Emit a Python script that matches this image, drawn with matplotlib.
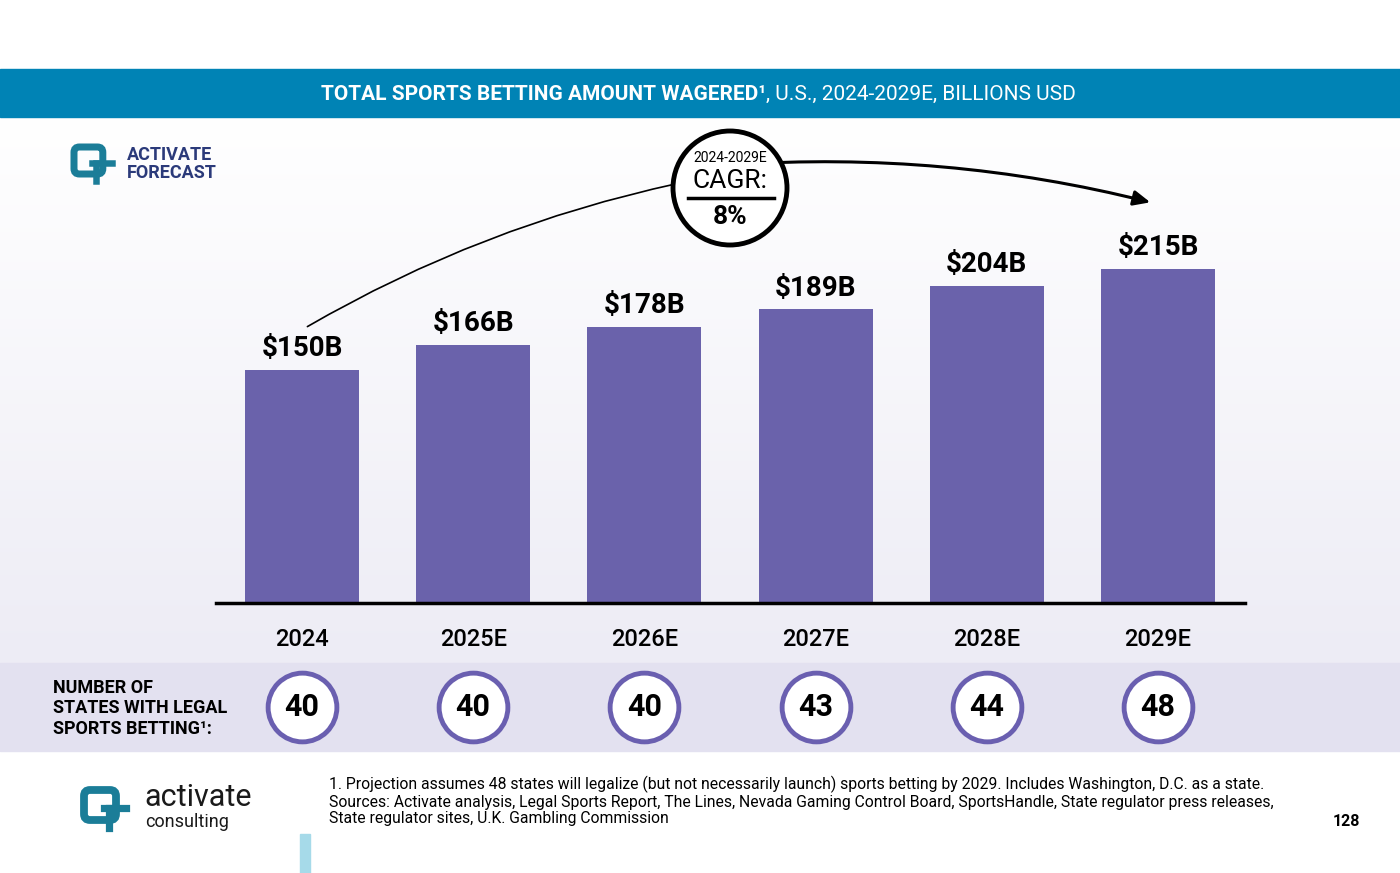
import matplotlib.pyplot as plt
import numpy as np
from matplotlib.patches import Rectangle, Circle, FancyBboxPatch
from matplotlib.colors import LinearSegmentedColormap

plt.rcParams['font.family'] = ['Roboto', 'DejaVu Sans']

years = ["2024", "2025E", "2026E", "2027E", "2028E", "2029E"]
wagered = [150, 166, 178, 189, 204, 215]
states = [40, 40, 40, 43, 44, 48]

W, H = 1400, 873
fig = plt.figure(figsize=(W / 100, H / 100), dpi=100)

# overlay in pixel coords for decoration
bg = fig.add_axes([0, 0, 1, 1])
bg.set_xlim(0, W)
bg.set_ylim(H, 0)
bg.axis('off')

grad = np.linspace(0, 1, 200).reshape(-1, 1)
bg.imshow(grad, extent=(0, W, 663, 117), cmap=LinearSegmentedColormap.from_list("g", ["#ffffff", "#edecf5"]),
          aspect='auto', zorder=0)
bg.add_patch(Rectangle((0, 69), W, 48, color="#0083b5", zorder=1))
bg.add_patch(Rectangle((0, 663), W, 88, color="#e3e1f0", zorder=1))
bg.add_patch(Rectangle((300, 834), 10, 39, color="#a6dae9", zorder=1))

t1 = bg.text(321, 94, "TOTAL SPORTS BETTING AMOUNT WAGERED¹", color="white", fontsize=15,
             fontweight='bold', ha='left', va='center', zorder=2)
fig.canvas.draw()
bb = t1.get_window_extent()
xe = bg.transData.inverted().transform((bb.x1, bb.y0))[0]
bg.text(xe, 94, ", U.S., 2024-2029E, BILLIONS USD", color="white", fontsize=15,
        ha='left', va='center', zorder=2)


def logo(x, y, s, zorder=3):
    bg.add_patch(FancyBboxPatch((x, y), s * 0.8, s * 0.75, boxstyle="round,pad=0,rounding_size=%f" % (s * 0.15),
                                fill=False, lw=s * 0.14, ec="#1b7d98", zorder=zorder))
    bg.plot([x + s * 0.5, x + s * 1.05], [y + s * 0.45, y + s * 0.45], color="#1b7d98", lw=s * 0.13, zorder=zorder)
    bg.plot([x + s * 0.62, x + s * 0.62], [y + s * 0.45, y + s * 0.95], color="#1b7d98", lw=s * 0.13, zorder=zorder)


logo(74, 147, 36)
bg.text(127, 155, "ACTIVATE", color="#2b3a7a", fontsize=13, fontweight='bold', va='center', zorder=3)
bg.text(127, 173, "FORECAST", color="#2b3a7a", fontsize=13, fontweight='bold', va='center', zorder=3)

logo(84, 790, 40)
bg.text(144, 798, "activate", fontsize=22, color="#1a1a1a", va='center', zorder=3)
bg.text(145, 822, "consulting", fontsize=13, color="#1a1a1a", va='center', zorder=3)

bg.text(329, 784, "1. Projection assumes 48 states will legalize (but not necessarily launch) sports betting by 2029. "
        "Includes Washington, D.C. as a state.", fontsize=11.3, va='center', zorder=3)
bg.text(329, 802, "Sources: Activate analysis, Legal Sports Report, The Lines, Nevada Gaming Control Board, "
        "SportsHandle, State regulator press releases,", fontsize=11.3, va='center', zorder=3)
bg.text(329, 819, "State regulator sites, U.K. Gambling Commission", fontsize=11.3, va='center', zorder=3)
bg.text(1360, 822, "128", fontsize=11.5, fontweight='bold', ha='right', va='center', zorder=3)

bg.text(53, 688, "NUMBER OF", fontsize=13, fontweight='bold', va='center', zorder=3)
bg.text(53, 708, "STATES WITH LEGAL", fontsize=13, fontweight='bold', va='center', zorder=3)
bg.text(53, 729, "SPORTS BETTING¹:", fontsize=13, fontweight='bold', va='center', zorder=3)

# CAGR arrow and circle
bg.annotate("", xy=(1153, 203), xytext=(730, 165),
            arrowprops=dict(arrowstyle="-|>,head_length=1.0,head_width=0.45", color="black", lw=2.2,
                            connectionstyle="arc3,rad=-0.08"), zorder=4)
bg.annotate("", xy=(305, 328), xytext=(680, 183),
            arrowprops=dict(arrowstyle="-", color="black", lw=1.2, connectionstyle="arc3,rad=0.08"), zorder=4)
bg.add_patch(Circle((730, 188), 57, fc="white", ec="black", lw=3.5, zorder=5))
bg.text(730, 158, "2024-2029E", fontsize=10, ha='center', va='center', zorder=6)
bg.text(730, 181, "CAGR:", fontsize=19, ha='center', va='center', zorder=6)
bg.plot([688, 774], [198, 198], color="black", lw=2.5, zorder=6)
bg.text(730, 217, "8%", fontsize=19, fontweight='bold', ha='center', va='center', zorder=6)


def frac(l, t, r, b):
    return [l / W, 1 - b / H, (r - l) / W, (b - t) / H]


ax = fig.add_axes(frac(216, 130, 1245, 603))
ax.patch.set_alpha(0)
x = np.arange(len(years))
ax.bar(x, wagered, width=114 / 171.2, color="#6a62ab", zorder=2)
ax.set_xlim(-86 / 171.2, 5 + 87 / 171.2)
ax.set_ylim(0, 473 / 1.553)
for xi, v in zip(x, wagered):
    ax.text(xi, v + 5, f"${v}B", ha='center', va='bottom', fontsize=20, fontweight='bold')
for s in ["top", "right", "left"]:
    ax.spines[s].set_visible(False)
ax.spines["bottom"].set_linewidth(2.5)
ax.set_yticks([])
ax.set_xticks(x)
ax.set_xticklabels(years, fontsize=17, fontweight='medium')
ax.tick_params(axis='x', length=0, pad=18)

# states circles
ax2 = fig.add_axes(frac(216, 663, 1245, 751))
ax2.set_xlim(ax.get_xlim())
ax2.set_ylim(0, 1)
ax2.axis('off')
ax2.scatter(x, [0.5] * len(x), s=2450, facecolor="white", edgecolor="#6a5fb0", linewidth=3.5, zorder=2)
for xi, n in zip(x, states):
    ax2.text(xi, 0.5, str(n), ha='center', va='center', fontsize=22, fontweight='bold', zorder=3)

fig.savefig("out.png", dpi=100)
